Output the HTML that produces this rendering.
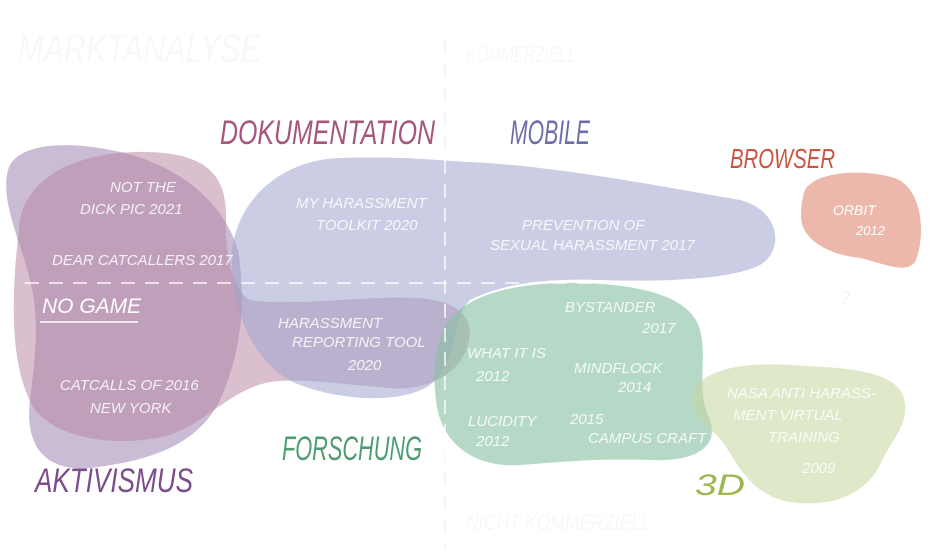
<!DOCTYPE html>
<html><head><meta charset="utf-8"><style>
html,body{margin:0;padding:0;background:#fff;width:941px;height:558px;overflow:hidden}
svg{display:block}
text{font-family:"Liberation Sans",sans-serif;font-style:italic}
.w{fill:#fff;font-size:15px;opacity:.85}
</style></head><body>
<svg width="941" height="558" viewBox="0 0 941 558" xmlns="http://www.w3.org/2000/svg">
<text x="18" y="62" font-size="40" fill="#f8f8f8" font-style="normal" textLength="243" lengthAdjust="spacingAndGlyphs">MARKTANALYSE</text>
<text x="466" y="62" font-size="22" fill="#f8f8f8" textLength="110" lengthAdjust="spacingAndGlyphs">KOMMERZIELL</text>
<text x="466" y="530" font-size="22" fill="#f8f8f8" textLength="185" lengthAdjust="spacingAndGlyphs">NICHT KOMMERZIELL</text>
<line x1="445" y1="40" x2="445" y2="550" stroke="#f4f4f4" stroke-width="2" stroke-dasharray="14 10"/>
<!-- purple aktivismus -->
<path d="M8,170 C15,145 60,140 110,150 C160,158 220,190 238,250 C248,310 238,360 220,400 C200,440 160,460 90,468 C40,472 25,440 30,400 C35,360 40,320 30,280 C20,240 0,200 8,170Z" fill="#9d85b0" fill-opacity=".55"/>
<!-- mauve dokumentation -->
<path d="M20,220 C30,170 90,150 150,152 C200,154 228,170 226,220 C224,250 232,290 250,300 C280,305 330,300 380,298 C430,296 465,300 470,330 C470,370 430,392 390,388 C340,384 300,378 270,382 C230,390 210,420 170,435 C120,448 60,440 35,410 C10,370 10,300 20,220Z" fill="#b5819f" fill-opacity=".5"/>
<!-- blue mobile -->
<path d="M232,250 C238,200 280,160 340,158 C400,156 430,160 470,162 C560,166 680,190 740,200 C780,210 785,250 760,265 C730,280 660,282 600,280 C540,278 500,285 470,300 C450,320 460,360 430,385 C400,405 340,400 300,385 C260,370 230,320 232,250Z" fill="#9fa4cc" fill-opacity=".55"/>
<!-- green -->
<path d="M440,340 C450,300 500,285 560,283 C620,282 690,290 700,330 C708,360 695,390 710,420 C720,450 690,462 650,460 C600,458 560,462 520,465 C470,468 440,440 436,400 C433,375 434,355 440,340Z" fill="#86c0a2" fill-opacity=".6"/>
<!-- olive -->
<path d="M692,395 C700,370 740,362 790,365 C840,368 890,368 903,395 C912,425 890,440 880,465 C865,495 830,508 790,502 C755,496 740,470 725,445 C710,425 688,415 692,395Z" fill="#c4d69c" fill-opacity=".55"/>
<!-- salmon -->
<path d="M805,190 C815,172 860,168 895,178 C925,190 925,240 915,262 C905,275 880,262 860,258 C830,255 800,240 801,215 C801,205 803,195 805,190Z" fill="#e39a88" fill-opacity=".7"/>
<line x1="25" y1="283" x2="905" y2="283" stroke="#fff" stroke-width="1.8" stroke-dasharray="14 10" opacity=".8"/>
<line x1="445" y1="160" x2="445" y2="460" stroke="#fff" stroke-width="1.8" stroke-dasharray="14 10" opacity=".8"/>
<text x="839" y="305" font-size="20" fill="#f4f4f4">?</text>
<text x="220" y="144" font-size="34" fill="#a5567d" textLength="215" lengthAdjust="spacingAndGlyphs">DOKUMENTATION</text>
<text x="510" y="144" font-size="34" fill="#6c6eab" textLength="80" lengthAdjust="spacingAndGlyphs">MOBILE</text>
<text x="730" y="168" font-size="28" fill="#c9553f" textLength="105" lengthAdjust="spacingAndGlyphs">BROWSER</text>
<text x="282" y="460" font-size="34" fill="#4f9c73" textLength="140" lengthAdjust="spacingAndGlyphs">FORSCHUNG</text>
<text x="35" y="492" font-size="34" fill="#7c4d8b" textLength="158" lengthAdjust="spacingAndGlyphs">AKTIVISMUS</text>
<text x="695" y="495" font-size="30" fill="#9cb74d" textLength="50" lengthAdjust="spacingAndGlyphs">3D</text>
<text class="w" x="110" y="192">NOT THE</text>
<text class="w" x="80" y="214">DICK PIC  2021</text>
<text class="w" x="52" y="265">DEAR CATCALLERS 2017</text>
<text x="42" y="313" font-size="21" fill="#fff">NO GAME</text>
<line x1="40" y1="322" x2="138" y2="322" stroke="#fff" stroke-width="1.5"/>
<text class="w" x="60" y="390">CATCALLS OF 2016</text>
<text class="w" x="90" y="413">NEW YORK</text>
<text class="w" x="296" y="208">MY HARASSMENT</text>
<text class="w" x="316" y="230">TOOLKIT  2020</text>
<text class="w" x="278" y="328">HARASSMENT</text>
<text class="w" x="292" y="347">REPORTING TOOL</text>
<text class="w" x="348" y="370">2020</text>
<text class="w" x="522" y="230">PREVENTION  OF</text>
<text class="w" x="490" y="250">SEXUAL  HARASSMENT  2017</text>
<text x="833" y="215" font-size="14" fill="#fff">ORBIT</text>
<text x="856" y="235" font-size="13" fill="#fff">2012</text>
<text class="w" x="565" y="312">BYSTANDER</text>
<text class="w" x="642" y="333">2017</text>
<text class="w" x="467" y="358">WHAT IT IS</text>
<text class="w" x="476" y="381">2012</text>
<text class="w" x="574" y="373">MINDFLOCK</text>
<text class="w" x="618" y="392">2014</text>
<text class="w" x="468" y="426">LUCIDITY</text>
<text class="w" x="476" y="446">2012</text>
<text class="w" x="570" y="424">2015</text>
<text class="w" x="588" y="443">CAMPUS CRAFT</text>
<text class="w" x="727" y="398">NASA ANTI HARASS-</text>
<text class="w" x="733" y="420">MENT  VIRTUAL</text>
<text class="w" x="768" y="442">TRAINING</text>
<text class="w" x="802" y="473">2009</text>
</svg>
</body></html>
